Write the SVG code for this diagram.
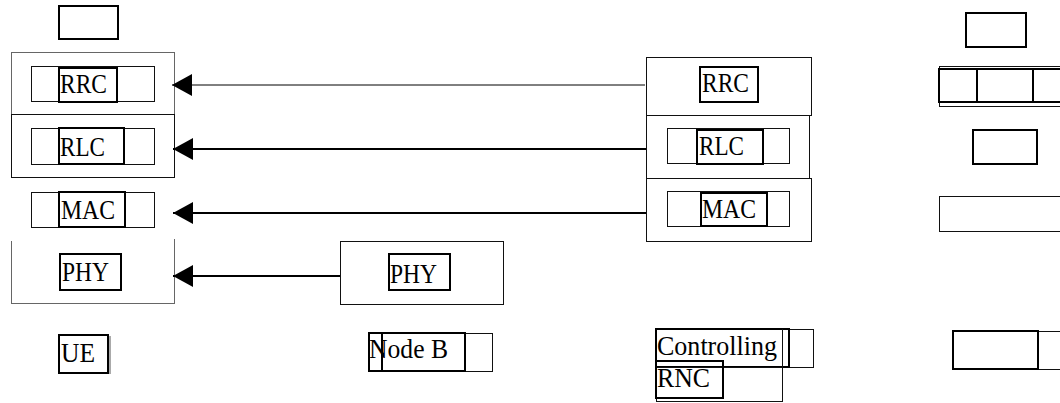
<svg xmlns="http://www.w3.org/2000/svg" width="1060" height="403" viewBox="0 0 1060 403">
<style>
.thin{fill:none;stroke:#111;stroke-width:1;shape-rendering:crispEdges}
.gray{fill:none;stroke:#666;stroke-width:1;shape-rendering:crispEdges}
.thick{fill:none;stroke:#000;stroke-width:2}
.lbl{font-family:"Liberation Serif","Times New Roman",serif;font-size:28px;fill:#000}
.conn{stroke:#000;fill:none}
</style>
<defs>
<marker id="ah" markerUnits="userSpaceOnUse" markerWidth="21" markerHeight="23" refX="20" refY="11" orient="auto">
<path d="M0,0 L20,11 L0,22 z" fill="#000"/>
</marker>
</defs>
<rect width="1060" height="403" fill="#fff"/>

<g id="ue-top"><rect class="thick" x="59" y="6" width="59" height="33"/></g>

<g id="ue-rrc">
<rect class="gray" x="11" y="52" width="163" height="62"/>
<rect class="thin" x="31" y="66" width="123" height="35"/>
<rect class="thick" x="59" y="68" width="58" height="34"/>
<text class="lbl" x="60" y="93" textLength="47" lengthAdjust="spacingAndGlyphs">RRC</text>
</g>
<g id="ue-rlc">
<rect class="thin" x="11" y="114" width="163" height="63"/>
<rect class="thin" x="31" y="128" width="123" height="36"/>
<rect class="thick" x="59" y="128" width="65" height="36"/>
<text class="lbl" x="60" y="156" textLength="45" lengthAdjust="spacingAndGlyphs">RLC</text>
</g>
<g id="ue-mac">
<rect class="thin" x="31" y="192" width="123" height="35"/>
<rect class="thick" x="59" y="192" width="66" height="35"/>
<text class="lbl" x="61" y="219" textLength="54" lengthAdjust="spacingAndGlyphs">MAC</text>
</g>
<g id="ue-phy">
<path class="gray" d="M11,241 V303 H174 V239"/>
<rect class="thick" x="60" y="254" width="61" height="36"/>
<text class="lbl" x="62" y="281" textLength="47" lengthAdjust="spacingAndGlyphs">PHY</text>
</g>
<g id="ue-label">
<rect x="61" y="336" width="50" height="38" fill="#aaa"/>
<rect x="59" y="335" width="49" height="38" fill="#fff" stroke="#000" stroke-width="2"/>
<text class="lbl" x="61" y="362" textLength="34" lengthAdjust="spacingAndGlyphs">UE</text>
</g>

<g id="nodeb-phy">
<rect class="thin" x="340" y="241" width="163" height="63"/>
<rect class="thick" x="389" y="254" width="61" height="36"/>
<text class="lbl" x="390" y="283" textLength="47" lengthAdjust="spacingAndGlyphs">PHY</text>
</g>
<g id="nodeb-label">
<rect class="thin" x="369" y="333" width="123" height="38"/>
<rect class="thick" x="369" y="333" width="96" height="38"/>
<line class="thick" x1="382" y1="333" x2="382" y2="371"/>
<text class="lbl" x="369" y="358" textLength="79" lengthAdjust="spacingAndGlyphs">Node B</text>
</g>

<g id="rnc-rrc">
<rect class="thin" x="646" y="57" width="165" height="58"/>
<rect class="thick" x="700" y="67" width="58" height="35"/>
<text class="lbl" x="702" y="92" textLength="47" lengthAdjust="spacingAndGlyphs">RRC</text>
</g>
<g id="rnc-rlc">
<rect class="thin" x="646" y="115" width="163" height="63"/>
<rect class="thin" x="667" y="128" width="122" height="35"/>
<rect class="thick" x="697" y="130" width="66" height="34"/>
<text class="lbl" x="699" y="155" textLength="45" lengthAdjust="spacingAndGlyphs">RLC</text>
</g>
<g id="rnc-mac">
<rect class="thin" x="646" y="178" width="165" height="63"/>
<rect class="thin" x="667" y="191" width="122" height="35"/>
<rect class="thick" x="701" y="193" width="66" height="33"/>
<text class="lbl" x="702" y="218" textLength="54" lengthAdjust="spacingAndGlyphs">MAC</text>
</g>
<g id="rnc-label">
<rect class="thin" x="656" y="329" width="157" height="38"/>
<rect class="thick" x="656" y="329" width="133" height="38"/>
<line class="thin" x1="782" y1="329" x2="782" y2="367"/>
<rect class="thin" x="656" y="367" width="126" height="34"/>
<rect class="thick" x="656" y="361" width="67" height="37"/>
<text class="lbl" x="657" y="355" textLength="120" lengthAdjust="spacingAndGlyphs">Controlling</text>
<text class="lbl" x="657" y="387" textLength="53" lengthAdjust="spacingAndGlyphs">RNC</text>
</g>

<g id="col4-top"><rect class="thick" x="966" y="13" width="60" height="34"/></g>
<g id="col4-row2">
<rect class="thin" x="939" y="66" width="130" height="40"/>
<rect class="thick" x="939" y="69" width="130" height="33"/>
<rect class="thick" x="977" y="69" width="56" height="33"/>
</g>
<g id="col4-row3"><rect class="thick" x="973" y="130" width="64" height="34" stroke-width="1.5"/></g>
<g id="col4-row4"><rect class="thin" x="939" y="196" width="130" height="35"/></g>
<g id="col4-label">
<rect class="thin" x="953" y="331" width="115" height="38"/>
<rect class="thick" x="953" y="331" width="85" height="38"/>
</g>

<g id="connectors">
<line class="conn" stroke-width="1" x1="645" y1="85" x2="172" y2="85" marker-end="url(#ah)"/>
<line class="conn" stroke-width="2" x1="646" y1="149" x2="173" y2="149" marker-end="url(#ah)"/>
<line class="conn" stroke-width="2" x1="646" y1="213" x2="173" y2="213" marker-end="url(#ah)"/>
<line class="conn" stroke-width="2" x1="340" y1="276" x2="173" y2="276" marker-end="url(#ah)"/>
</g>
</svg>
